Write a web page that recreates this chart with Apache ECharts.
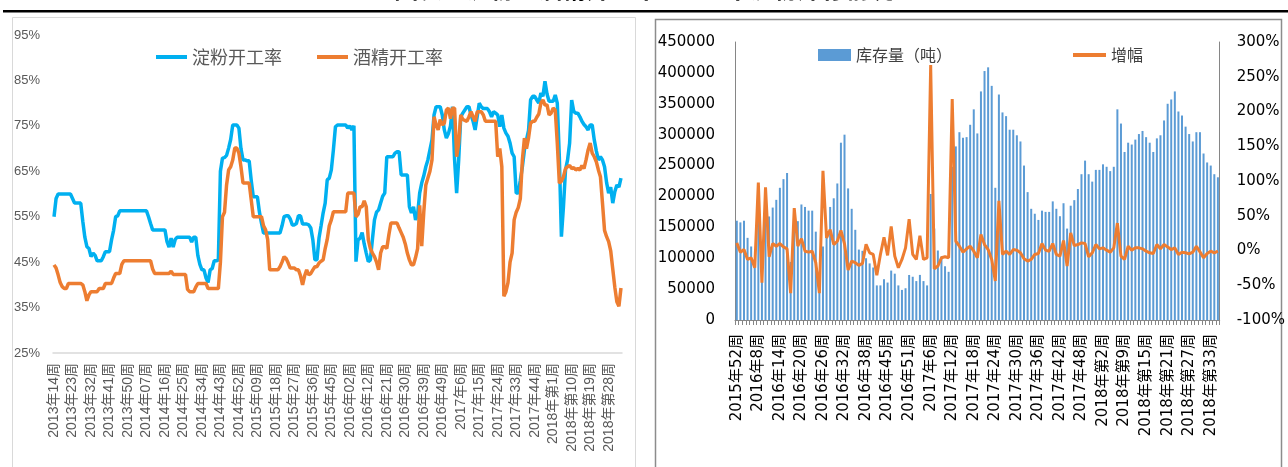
<!DOCTYPE html>
<html>
<head>
<meta charset="utf-8">
<script src="https://cdn.jsdelivr.net/npm/echarts@6/dist/echarts.min.js"></script>
<style>
html,body{margin:0;padding:0;background:#fff;}
#c{width:1288px;height:467px;}
</style>
</head>
<body>
<div id="c"></div>
<script>
// ---------- Left chart: 开工率 (percent) ----------
const leftTicks = ['2013年14周','2013年23周','2013年32周','2013年41周','2013年50周','2014年07周','2014年16周','2014年25周','2014年34周','2014年43周','2014年52周','2015年09周','2015年18周','2015年27周','2015年36周','2015年45周','2016年02周','2016年12周','2016年21周','2016年30周','2016年39周','2016年49周','2017年6周','2017年15周','2017年24周','2017年33周','2017年44周','2018年第1周','2018年第10周','2018年第19周','2018年第28周'];

const starchRate = [
55.0,59,60,60,60,60,60,60,60,59,
58,58,58,58,54,50.5,48.4,48,46.2,47,
46.5,45.3,45.3,45.3,46.2,47.3,47.3,47.3,49.9,52,
55,55.2,56.3,56.3,56.3,56.3,56.3,56.3,56.3,56.3,
56.3,56.3,56.3,56.3,56.3,56.3,55,53.5,52.1,52.1,
52.1,52.1,52.1,52.1,52.1,49.5,48.3,50.3,48.3,50,
50.5,50.5,50.5,50.5,50.5,50.5,50.5,49.4,50.5,50.5,
46.5,44.5,43.3,43.3,41.5,40.5,43.3,43.6,45.3,45.3,
45.5,65,67.9,68,68.5,70.1,72,75.2,75.2,75.2,
74.5,70,67.5,67.5,67.3,67.3,63,59.4,59.4,59.4,
56,53.6,51.4,51.4,51.4,51.4,51.4,51.4,51.4,51.4,
51.4,53,55,55.2,55.2,54.5,53.2,53.2,53.5,55.2,
55.2,53.4,53.4,53.4,53.2,52.5,49.9,45.5,45.5,50.3,
53,55.8,58,63.1,63.5,65.3,69.7,74.8,75.2,75.2,
75.2,75.2,75.2,74.5,75,74.1,75,45.1,49.9,50.3,
51.5,49,47,45.1,45.5,50,54.3,56,56.5,58,
59.5,60.2,68.2,68.2,68.2,68.2,69,69.3,69.3,64.2,
64.2,64.2,64.2,57.2,55.8,57.2,54.3,55.5,60.2,62.4,
64,66,67.5,69.7,71.9,77.4,79.2,79.2,79.2,77.4,
74.1,72.3,73.3,75,79.2,67.5,60.2,67.5,77,77.8,
78.5,79.2,79.2,77.4,76,74.1,77,80,79.2,78.8,
78.8,78.8,78.1,77,78.1,77.8,77.4,74.8,77.4,74.5,
73.4,72.7,71.2,69,68.2,60.2,60.2,63,66,69.7,
71.9,74,80.7,81.5,81.5,80.7,80,82.2,81.5,84.8,
82,80.4,80.4,80.4,81.8,80,68,50.6,57.2,65.3,
67.5,71.2,80.7,78.2,77.8,77.8,77,76,75.3,74.8,
74.1,75.2,75.2,71.9,69.5,67.5,68.2,67.5,66,62.5,
60.2,61.5,58,60.5,62,61.5,63.5
];

const alcoholRate = [
44.4,43.7,42.2,40.5,39.6,39.2,39.2,40.3,40.3,40.3,
40.3,40.3,40.3,40.3,40,38.5,36.5,37.8,38.5,38.5,
38.5,38.5,39.2,39.2,39.2,40.3,40.3,40.3,40.3,41.5,
42.5,42.5,42.5,44.5,45.3,45.3,45.3,45.3,45.3,45.3,
45.3,45.3,45.3,45.3,45.3,45.3,45.3,45.3,43.5,42.5,
42.5,42.5,42.5,42.5,42.5,42.5,42.5,43,42.3,42.3,
42.3,42.3,42.3,42.3,42.3,39,38.5,38.5,38.5,39.5,
40.3,40.3,40.3,40.3,40.3,39.2,39.2,39.2,39.2,39.2,
39.2,45,55,56,62,65.3,66,67.5,70.1,70.1,
69,66,62.4,62.4,62.4,62.4,58.7,55,55,55,
55,55,53,52.1,50,43.3,43.3,43.3,43.3,43.3,
44,45,46.2,45.8,44.8,43.7,43.7,43.7,43.3,43.3,
42,40,42,43.3,42.2,42.5,43.3,44,44,44.8,
45.2,45.5,48,50,53,54.3,56.1,56.1,56.1,56.1,
56.1,56.1,56.1,60.2,60.2,60.2,60.2,55,55.5,57.2,
57.2,58.5,57.2,49.9,48,47,46.2,45,43.3,47,
48.4,48.4,48,51,53.6,53.6,53.6,53.6,52.5,51.5,
50.5,49,47,45.5,44.4,44.4,46,48,57.5,48.5,
56,62,63.5,65,67.5,77,75.2,74.1,76.4,75.2,
75.6,78.5,78.9,76.6,78.9,78.9,68.2,71.2,77.4,76.4,
76.2,76,77,78.1,77,76,78.1,78.1,78.1,77.4,
76,76,76,76,76,76,68.2,70,66,37.5,
38.5,40.5,45,47,54.3,56,57,59,67.5,72.3,
70,72.3,75.6,76,76,76.9,77.6,80,80.7,79.6,
79.6,77.4,77.8,78.9,78.5,71.2,62.4,62.8,63.8,65.6,
66,66.3,65.6,65.8,65.3,65.6,65.3,66.3,65.6,67.5,
69.7,71.2,69,68.2,67.1,65.3,63.8,58,52,50.6,
49.5,47.5,43.5,39.5,36.3,35.3,39.3
];

// ---------- Right chart: 库存量 & 增幅 ----------
const rightTicks = ['2015年52周','2016年8周','2016年14周','2016年20周','2016年26周','2016年32周','2016年38周','2016年45周','2016年51周','2017年6周','2017年12周','2017年18周','2017年24周','2017年30周','2017年36周','2017年42周','2017年48周','2018年第2周','2018年第9周','2018年第15周','2018年第21周','2018年第27周','2018年第33周'];

const inventory = [
160700,158000,160700,133000,119000,90000,177000,95000,182000,167600,
182000,194500,214000,228000,238000,94000,152000,160000,187000,183000,
177000,177000,143000,55000,119000,140000,183000,197000,221000,287000,
300000,213000,180000,146000,114000,112000,100000,91600,85000,56000,
56000,66000,60600,80000,75000,56000,48700,51400,72900,70000,
63000,73000,63000,56000,204000,148000,112500,103000,87000,78000,
248000,281000,304000,295000,296000,316000,341000,302000,370000,403000,
409000,379000,214000,365000,336000,330000,308000,308000,299000,289000,
250000,207000,180000,172000,162000,177000,175000,175000,192000,180000,
168000,189000,148000,185000,194000,212000,236000,258000,236000,224000,
243000,243000,252000,248000,241000,248000,341000,318000,272000,287000,
284000,292000,301000,306000,296000,287000,272000,294000,299000,323000,
350000,357000,370000,337500,331000,313000,301000,289000,304000,304000,
269500,255000,250000,236000,231000
];

const growth = [
0.11,-0.024,0.014,-0.129,-0.105,-0.248,0.976,-0.462,0.91,-0.09,
0.10,0.062,0.10,0.052,0.024,-0.614,0.61,0.062,0.171,-0.01,
-0.024,-0.01,-0.176,-0.614,1.148,0.18,0.30,0.086,0.133,0.29,
0.095,-0.28,-0.152,-0.176,-0.214,-0.186,0.09,-0.033,-0.057,-0.357,
-0.057,0.19,-0.071,0.348,-0.081,-0.248,-0.129,0.038,0.452,-0.057,
-0.129,0.214,-0.129,-0.105,2.67,-0.262,-0.224,-0.105,-0.09,-0.105,
2.18,0.133,0.062,-0.024,0.024,0.062,-0.01,-0.105,0.229,0.086,
0.014,-0.129,-0.438,0.714,-0.057,-0.01,-0.057,0.014,0.005,-0.033,
-0.119,-0.152,-0.129,-0.057,-0.043,0.10,0.005,-0.01,0.10,-0.057,
-0.081,0.143,-0.224,0.252,0.071,0.086,0.11,0.10,-0.09,-0.033,
0.086,0.024,0.038,0.005,-0.024,0.038,0.395,-0.081,-0.129,0.062,
0.005,0.038,0.038,0.024,-0.01,-0.033,-0.043,0.086,0.024,0.086,
0.052,0.014,0.038,-0.057,-0.024,-0.033,-0.048,-0.024,0.062,-0.019,
-0.105,-0.043,-0.01,-0.033,-0.01
];

// ---------- build ----------
const LEFT_BASE = 25; // left axis starts at 25%
const leftCats = starchRate.map((_, j) => j % 9 === 0 ? (leftTicks[j / 9] || '') : '');
const rightCats = inventory.map((_, i) => i % 6 === 0 ? (rightTicks[i / 6] || '') : '');

const leftFont = "'Liberation Sans','Noto Sans CJK SC',sans-serif";
const rightFont = "'DejaVu Sans','Noto Sans CJK SC',sans-serif";
const cjk = "'Noto Sans CJK SC',sans-serif";

const chart = echarts.init(document.getElementById('c'), null, {renderer: 'canvas'});
chart.setOption({
  animation: false,
  backgroundColor: '#fff',
  graphic: [
    {type: 'text', left: 'center', top: -23, silent: true,
     style: {text: '图表：淀粉、酒精开工率        玉米淀粉库存情况', fill: '#000', fontSize: 24, fontWeight: 'bold', fontFamily: cjk}},
    {type: 'rect', shape: {x: 0, y: 8.5, width: 1288, height: 1.5}, style: {fill: '#fff'}, silent: true},
    {type: 'rect', shape: {x: 3, y: 10, width: 1285, height: 2.5}, style: {fill: '#000'}, silent: true},
    {type: 'rect', shape: {x: 12.5, y: 17.5, width: 623, height: 460}, style: {fill: 'none', stroke: '#D9D9D9', lineWidth: 1}, silent: true},
    {type: 'rect', shape: {x: 655.5, y: 19.5, width: 626, height: 460}, style: {fill: 'none', stroke: '#8C8C8C', lineWidth: 1.5}, silent: true}
  ],
  legend: [
    {data: ['淀粉开工率', '酒精开工率'], left: 151, top: 43, icon: 'rect', itemWidth: 31, itemHeight: 4, itemGap: 35,
     textStyle: {fontSize: 18, color: '#595959', fontFamily: cjk}, selectedMode: false},
    {data: ['库存量（吨）'], left: 813, top: 42, icon: 'rect', itemWidth: 33, itemHeight: 12,
     textStyle: {fontSize: 16, color: '#404040', fontFamily: cjk}, selectedMode: false},
    {data: ['增幅'], left: 1068, top: 42, icon: 'rect', itemWidth: 33, itemHeight: 4,
     textStyle: {fontSize: 16, color: '#404040', fontFamily: cjk}, selectedMode: false}
  ],
  grid: [
    {left: 53, top: 35, width: 569, height: 318},
    {left: 735, top: 42, width: 485, height: 278}
  ],
  xAxis: [
    {type: 'category', gridIndex: 0, data: leftCats, boundaryGap: true,
     axisLine: {lineStyle: {color: '#D9D9D9', width: 1.5}}, axisTick: {show: false},
     axisLabel: {interval: 8, rotate: 90, color: '#595959', fontSize: 14, fontFamily: leftFont, margin: 10}},
    {type: 'category', gridIndex: 1, data: rightCats, boundaryGap: true,
     axisLine: {lineStyle: {color: '#868686', width: 1}},
     axisTick: {show: true, interval: 0, length: 5, lineStyle: {color: '#868686'}},
     axisLabel: {interval: 5, rotate: 90, color: '#000', fontSize: 15, fontFamily: rightFont, margin: 14}}
  ],
  yAxis: [
    {type: 'value', gridIndex: 0, min: 0, max: 70, interval: 10,
     axisLine: {show: false}, axisTick: {show: false}, splitLine: {show: false},
     axisLabel: {formatter: v => (v + LEFT_BASE) + '%', color: '#595959', fontSize: 13, fontFamily: leftFont, margin: 13}},
    {type: 'value', gridIndex: 1, min: 0, max: 450000, interval: 50000,
     axisLine: {show: true, lineStyle: {color: '#868686'}}, axisTick: {show: false}, splitLine: {show: false},
     axisLabel: {formatter: v => String(v), color: '#000', fontSize: 15, fontFamily: rightFont, margin: 20}},
    {type: 'value', gridIndex: 1, position: 'right', min: -1, max: 3, interval: 0.5,
     axisLine: {show: true, lineStyle: {color: '#868686'}}, axisTick: {show: false}, splitLine: {show: false},
     axisLabel: {formatter: v => Math.round(v * 100) + '%', color: '#000', fontSize: 15, fontFamily: rightFont, margin: 17}}
  ],
  series: [
    {name: '淀粉开工率', type: 'line', xAxisIndex: 0, yAxisIndex: 0, data: starchRate.map(v => v - LEFT_BASE),
     showSymbol: false, lineStyle: {color: '#00B0F0', width: 3.5}, itemStyle: {color: '#00B0F0'}},
    {name: '酒精开工率', type: 'line', xAxisIndex: 0, yAxisIndex: 0, data: alcoholRate.map(v => v - LEFT_BASE),
     showSymbol: false, lineStyle: {color: '#ED7D31', width: 3.5}, itemStyle: {color: '#ED7D31'}},
    {name: '库存量（吨）', type: 'bar', xAxisIndex: 1, yAxisIndex: 1, data: inventory, barWidth: 2,
     itemStyle: {color: '#5B9BD5'}},
    {name: '增幅', type: 'line', xAxisIndex: 1, yAxisIndex: 2, data: growth,
     showSymbol: false, lineStyle: {color: '#ED7D31', width: 3}, itemStyle: {color: '#ED7D31'}}
  ]
});
</script>
</body>
</html>
